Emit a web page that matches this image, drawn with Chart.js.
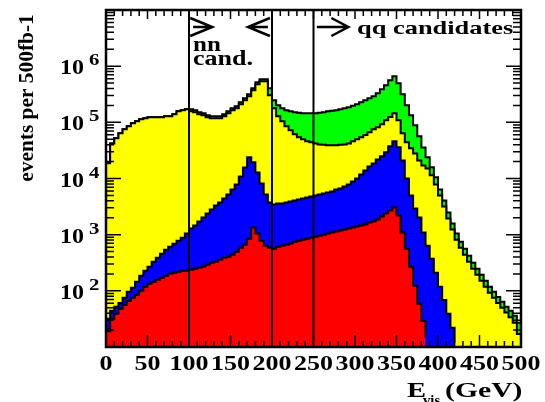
<!DOCTYPE html>
<html>
<head>
<meta charset="utf-8">
<script src="https://cdn.jsdelivr.net/npm/chart.js@4.4.0/dist/chart.umd.min.js"></script>
<style>
  html, body { margin: 0; padding: 0; background: #fff; }
  canvas { display: block; }
</style>
</head>
<body>
<canvas id="grafico" width="545" height="402"></canvas>
<script>
// E_vis em bins de 5 GeV (borda inferior de cada bin)
const binWidth = 5
const eVis = Array.from({ length: 100 }, (_, i) => i * binWidth)

// topo acumulado de cada camada (eventos por 500 fb-1)
const redTop = [
    19, 32, 39, 48, 56, 66, 75, 85, 100, 118,
    134, 145, 158, 171, 186, 202, 210, 219, 228, 228,
    238, 248, 258, 269, 292, 317, 330, 358, 389, 405,
    440, 498, 587, 663, 849, 1338, 1046, 782, 637, 587,
    563, 611, 637, 663, 691, 750, 782, 815, 849, 884,
    921, 960, 1000, 1046, 1090, 1136, 1183, 1233, 1285, 1338,
    1395, 1453, 1514, 1643, 1712, 1859, 2102, 2378, 2689, 3042,
    2190, 1090, 563, 269, 123, 59, 29, 15, 0, 0,
    0, 0, 0, 0, 0, 0, 0, 0, 0, 0,
    0, 0, 0, 0, 0, 0, 0, 0, 0, 0
]
const blueTop = [
    32, 44, 52, 61, 75, 96, 114, 145, 186, 228,
    269, 330, 389, 459, 540, 611, 691, 782, 884, 1046,
    1285, 1453, 1712, 2018, 2378, 2802, 3302, 3735, 4401, 5186,
    6367, 7817, 10900, 15770, 23780, 19370, 12850, 8145, 5186, 3735,
    3440, 3584, 3584, 3735, 3891, 4054, 4224, 4401, 4585, 4777,
    4977, 5186, 5403, 5629, 5865, 6367, 6634, 7201, 7817, 8841,
    10000, 11830, 13950, 16430, 18590, 21900, 24770, 29190, 37350, 45850,
    35840, 21020, 10000, 4977, 2919, 2018, 1090, 637, 374, 210,
    118, 69, 39, 22, 12, 0, 0, 0, 0, 0,
    0, 0, 0, 0, 0, 0, 0, 0, 0, 0
]
const yellowTop = [
    18600, 42200, 51900, 63700, 75000, 84900, 96000, 104600, 113600, 118300,
    123300, 123300, 123300, 123300, 128500, 128500, 139500, 157700, 164300, 171200,
    157700, 151400, 139500, 133800, 123300, 118300, 118300, 118300, 128500, 145300,
    164300, 178400, 210200, 247700, 291900, 373500, 477700, 540300, 540300, 304200,
    178400, 128500, 104600, 84900, 72000, 61100, 54000, 49800, 45900, 44000,
    42200, 40500, 39700, 38900, 38900, 38900, 39700, 40500, 42200, 45900,
    49800, 54000, 59800, 66300, 75000, 81600, 92100, 109000, 124700, 145300,
    109000, 63700, 44000, 34400, 28000, 21000, 17100, 15100, 11400, 7820,
    4980, 3170, 1940, 1230, 815, 587, 440, 330, 248, 194,
    151, 118, 92, 75, 61, 50, 41, 34, 27, 17
]
const greenTop = [
    18600, 42200, 51900, 63700, 75000, 84900, 96000, 104600, 113600, 118300,
    123300, 123300, 123300, 123300, 128500, 128500, 139500, 157700, 164300, 171200,
    171200, 164300, 151400, 145300, 133800, 128500, 128500, 128500, 139500, 157700,
    178400, 193700, 228200, 268900, 316900, 405400, 518600, 586500, 586500, 405400,
    247700, 201800, 178400, 164300, 157700, 151400, 148000, 145300, 145300, 145300,
    145300, 148000, 151400, 157700, 161000, 164300, 171200, 178400, 185900, 197700,
    210200, 228200, 247700, 268900, 291900, 330200, 389100, 458500, 562900, 663400,
    497700, 316900, 201800, 133800, 88400, 56300, 35800, 23800, 15800, 10500,
    6370, 4050, 2480, 1580, 1050, 750, 563, 422, 317, 248,
    194, 151, 118, 96, 78, 64, 52, 44, 36, 27
]

const xTicks = [0, 50, 100, 150, 200, 250, 300, 350, 400, 450, 500]
const yExpoentes = [2, 3, 4, 5, 6]
const cortes = [100, 200, 250]

const FONTE = '"Liberation Serif", "DejaVu Serif", serif'

// histograma: ponto na borda de cada bin + borda final
function degraus(valores) {
    const pts = valores.map((v, i) => ({ x: eVis[i], y: v }))
    pts.push({ x: eVis[eVis.length - 1] + binWidth, y: valores[valores.length - 1] })
    return pts
}

function camada(valores, cor) {
    return {
        data: degraus(valores),
        stepped: 'before',
        fill: 'start',
        backgroundColor: cor,
        borderColor: '#000',
        borderWidth: 2,
        pointRadius: 0,
        tension: 0
    }
}

function texto(ctx, s, x, y, size, sx, align) {
    ctx.save()
    ctx.translate(x, y)
    ctx.scale(sx, 1)
    ctx.font = `bold ${size}px ${FONTE}`
    ctx.textAlign = align || 'left'
    ctx.textBaseline = 'alphabetic'
    ctx.fillStyle = '#000'
    ctx.fillText(s, 0, 0)
    ctx.restore()
}

// haste de "from" até "to", ponta em "to" com profundidade "ponta" (px)
function seta(ctx, x, from, to, yy, ponta) {
    const x1 = x.getPixelForValue(from)
    const x2 = x.getPixelForValue(to)
    const dir = x2 > x1 ? 1 : -1
    ctx.beginPath()
    ctx.moveTo(x1, yy)
    ctx.lineTo(x2, yy)
    ctx.moveTo(x2 - dir * ponta, yy - 9)
    ctx.lineTo(x2, yy)
    ctx.lineTo(x2 - dir * ponta, yy + 9)
    ctx.stroke()
}

const moldura = {
    id: 'moldura',
    afterDatasetsDraw(chart) {
        const { ctx, chartArea: a, scales: { x, y } } = chart
        ctx.save()
        ctx.strokeStyle = '#000'
        ctx.lineCap = 'butt'

        // linhas de corte
        ctx.lineWidth = 2
        cortes.forEach(v => {
            const px = x.getPixelForValue(v)
            ctx.beginPath()
            ctx.moveTo(px, a.bottom)
            ctx.lineTo(px, a.top)
            ctx.stroke()
        })

        // ticks do eixo x (baixo e cima)
        ctx.lineWidth = 1.5
        for (let v = 0; v <= 500; v += 10) {
            const px = x.getPixelForValue(v)
            const major = v % 50 === 0
            ctx.beginPath()
            ctx.moveTo(px, a.bottom)
            ctx.lineTo(px, a.bottom - (major ? 12 : 6))
            ctx.moveTo(px, a.top)
            ctx.lineTo(px, a.top + (major ? 9 : 6))
            ctx.stroke()
        }

        // ticks do eixo y (esquerda e direita)
        for (let d = 10; d < 1e7; d *= 10) {
            for (let k = 1; k <= 9; k++) {
                const py = y.getPixelForValue(d * k)
                const len = k === 1 ? 15 : 8
                ctx.beginPath()
                ctx.moveTo(a.left, py)
                ctx.lineTo(a.left + len, py)
                ctx.moveTo(a.right, py)
                ctx.lineTo(a.right - len, py)
                ctx.stroke()
            }
        }

        // setas
        ctx.lineWidth = 2.5
        seta(ctx, x, 105, 128, a.top + 17, 22)
        seta(ctx, x, 195, 171, a.top + 17, 22)
        seta(ctx, x, 254, 292, a.top + 17, 17)

        // moldura
        ctx.lineWidth = 2.5
        ctx.strokeRect(a.left, a.top, a.right - a.left, a.bottom - a.top)
        ctx.restore()
    },
    afterDraw(chart) {
        const { ctx, chartArea: a, scales: { x, y } } = chart

        xTicks.forEach(v => {
            texto(ctx, String(v), x.getPixelForValue(v), a.bottom + 23, 20, 1.3, 'center')
        })

        yExpoentes.forEach(e => {
            const py = y.getPixelForValue(Math.pow(10, e))
            texto(ctx, '10', a.left - 22, py + 8, 20, 1.2, 'right')
            texto(ctx, String(e), a.left - 17, py - 1, 16, 1.3, 'left')
        })

        // anotações
        texto(ctx, 'nn', 193, 51, 20, 1.25)
        texto(ctx, 'cand.', 193, 65, 20, 1.3)
        texto(ctx, 'qq candidates', 357, 34, 19, 1.39)

        // título do eixo x
        texto(ctx, 'E', 407, 397, 22, 1.3)
        texto(ctx, 'vis', 423, 405, 14, 1.05)
        texto(ctx, '(GeV)', 445, 397, 22, 1.35)

        // título do eixo y
        ctx.save()
        ctx.translate(33, 98)
        ctx.rotate(-Math.PI / 2)
        ctx.scale(1.07, 1)
        ctx.font = `bold 20px ${FONTE}`
        ctx.textAlign = 'center'
        ctx.fillStyle = '#000'
        ctx.fillText('events per 500fb-1', 0, 0)
        ctx.restore()
    }
}

new Chart(document.getElementById('grafico'), {
    type: 'line',
    data: {
        datasets: [
            camada(redTop, '#ff0000'),
            camada(blueTop, '#0000ff'),
            camada(yellowTop, '#ffff00'),
            camada(greenTop, '#00ff00')
        ]
    },
    options: {
        responsive: false,
        animation: false,
        layout: { padding: { left: 106, right: 24, top: 10, bottom: 55 } },
        plugins: { legend: { display: false }, tooltip: { enabled: false } },
        scales: {
            x: { type: 'linear', min: 0, max: 500, display: false },
            y: { type: 'logarithmic', min: 10, max: 1e7, display: false }
        }
    },
    plugins: [moldura]
})
</script>
</body>
</html>
